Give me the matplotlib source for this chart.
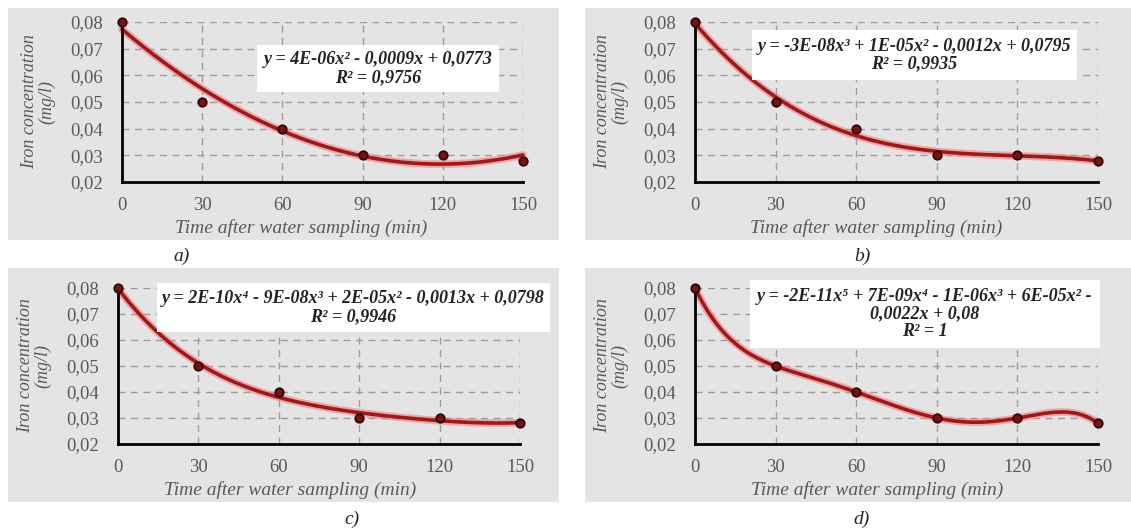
import numpy as np
import matplotlib
matplotlib.use("Agg")
import matplotlib.pyplot as plt
from matplotlib.patches import Rectangle
from matplotlib.ticker import FuncFormatter

# ---- data ----
time_min = [0, 30, 60, 90, 120, 150]
iron_mg_l = [0.08, 0.05, 0.04, 0.03, 0.03, 0.028]
poly_degrees = [2, 3, 4, 5]
equations = [
    "y = 4E-06x² - 0,0009x + 0,0773\nR² = 0,9756",
    "y = -3E-08x³ + 1E-05x² - 0,0012x + 0,0795\nR² = 0,9935",
    "y = 2E-10x⁴ - 9E-08x³ + 2E-05x² - 0,0013x + 0,0798\nR² = 0,9946",
    "y = -2E-11x⁵ + 7E-09x⁴ - 1E-06x³ + 6E-05x² -\n0,0022x + 0,08\nR² = 1",
]
captions = ["a)", "b)", "c)", "d)"]
xticks = [0, 30, 60, 90, 120, 150]
yticks = [0.02, 0.03, 0.04, 0.05, 0.06, 0.07, 0.08]

W, H = 1131, 529
fig = plt.figure(figsize=(W / 100, H / 100), dpi=100)
fig.patch.set_facecolor("white")

serif = ["Liberation Serif", "DejaVu Serif"]
gray_txt = "#595959"
bg = "#E4E4E4"

# layout in pixels
axes_px = [(122, 523, 22, 182), (695, 1098, 22, 182),
           (118, 520, 288, 444), (695, 1098, 288, 444)]
bg_px = [(8, 559, 8, 240), (585, 1131, 8, 240),
         (8, 559, 268, 502), (585, 1131, 268, 502)]
cap_px = [(182, 256), (862, 256), (352, 519), (862, 519)]
# equation boxes: x0, x1, ytop, ybot (pixels)
box_px = [(257, 499, 45, 92), (752, 1077, 30, 80),
          (157, 550, 283, 332), (750, 1100, 280, 348)]
xlabel_cx = [301, 876, 290, 877]

def ff(v, pos):
    return f"{v:.2f}".replace(".", ",")

for i in range(4):
    bx0, bx1, by0, by1 = bg_px[i]
    fig.patches.append(Rectangle((bx0 / W, 1 - by1 / H), (bx1 - bx0) / W, (by1 - by0) / H,
                                 transform=fig.transFigure, facecolor=bg, edgecolor="none", zorder=-5))
    x0, x1, yt, yb = axes_px[i]
    ax = fig.add_axes([x0 / W, 1 - yb / H, (x1 - x0) / W, (yb - yt) / H])
    ax.set_facecolor(bg)
    ax.set_xlim(0, 150)
    ax.set_ylim(0.02, 0.08)
    ax.set_xticks(xticks)
    ax.set_yticks(yticks)
    ax.yaxis.set_major_formatter(FuncFormatter(ff))
    ax.tick_params(length=0, labelsize=13.5, colors=gray_txt)
    ax.tick_params(axis="x", pad=10.5)
    ax.tick_params(axis="y", pad=13.5)
    for lab in ax.get_xticklabels() + ax.get_yticklabels():
        lab.set_family(serif)
    ax.grid(True, color="#9C9C9C", linestyle=(0, (5, 4)), linewidth=1.0)
    for s in ["top", "right"]:
        ax.spines[s].set_visible(False)
    for s in ["left", "bottom"]:
        ax.spines[s].set_color("black")
        ax.spines[s].set_linewidth(2.0)
        ax.spines[s].set_zorder(5)
    ax.set_axisbelow(True)

    coef = np.polyfit(time_min, iron_mg_l, poly_degrees[i])
    xs = np.linspace(0, 150, 300)
    ys = np.polyval(coef, xs)
    ax.plot(xs, ys, color="#F28080", lw=5.5, alpha=0.6, solid_capstyle="round", zorder=3, clip_on=False)
    ax.plot(xs, ys, color="#A01818", lw=2.6, solid_capstyle="round", zorder=4, clip_on=False)
    ax.scatter(time_min, iron_mg_l, s=38, color="#7A1010", edgecolor="#2A0505",
               linewidth=1.2, zorder=6, clip_on=False)

    axw, axh = x1 - x0, yb - yt
    ax.set_xlabel("Time after water sampling (min)", family=serif, style="italic",
                  fontsize=14, color=gray_txt)
    ax.xaxis.set_label_coords((xlabel_cx[i] - x0) / axw, -37 / axh)
    ax.set_ylabel("Iron concentration\n(mg/l)", family=serif, style="italic",
                  fontsize=13, color=gray_txt, linespacing=1.0)
    ax.yaxis.set_label_coords(-67 / axw, 0.5)

    # equation box
    ex0, ex1, ey0, ey1 = box_px[i]
    fx0 = (ex0 - x0) / axw
    fx1 = (ex1 - x0) / axw
    fy0 = (yb - ey1) / axh
    fy1 = (yb - ey0) / axh
    ax.add_patch(Rectangle((fx0, fy0), fx1 - fx0, fy1 - fy0, transform=ax.transAxes,
                           facecolor="white", edgecolor="none", zorder=7, clip_on=False))
    ax.text((fx0 + fx1) / 2, (fy0 + fy1) / 2, equations[i], transform=ax.transAxes,
            ha="center", va="center", family=serif, style="italic", weight="bold",
            fontsize=13, color="#222222", linespacing=1.05, zorder=8)

    cx, cy = cap_px[i]
    fig.text(cx / W, 1 - cy / H, captions[i], family=serif, style="italic",
             fontsize=14, color="#222222", ha="center", va="center")

fig.savefig("out.png", dpi=100, facecolor="white")
